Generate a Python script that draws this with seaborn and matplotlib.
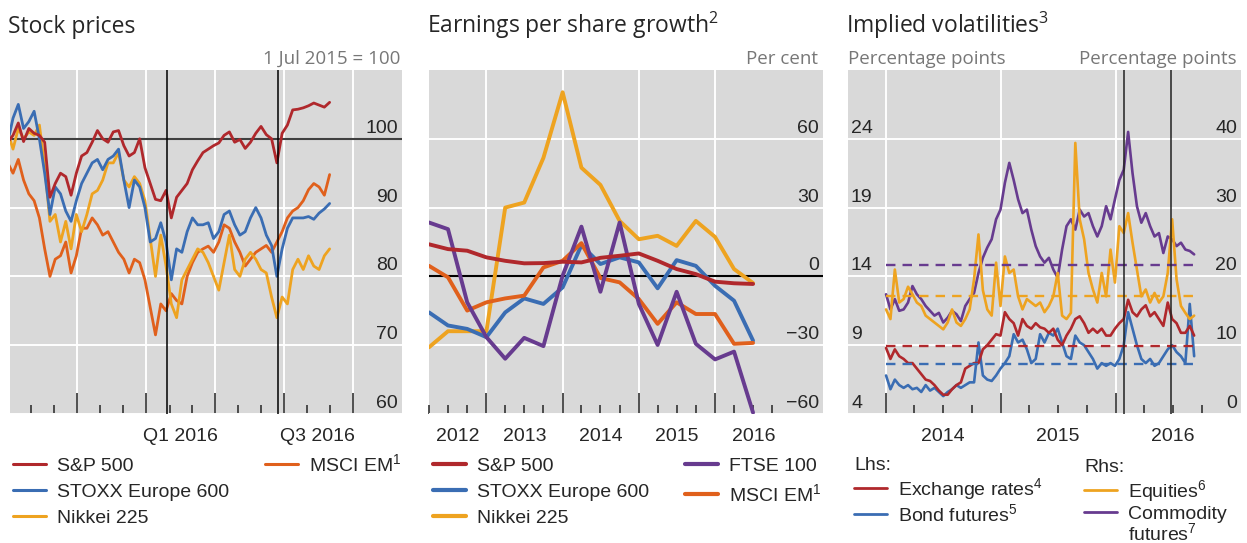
import matplotlib
matplotlib.use("Agg")
import matplotlib.pyplot as plt
import matplotlib.dates as mdates
from matplotlib.lines import Line2D
import pandas as pd
import seaborn as sns

W, H = 1247, 543

RED = "#b0282c"
BLUE = "#3a6db3"
GOLD = "#eea320"
ORANGE = "#e0601c"
PURPLE = "#673b8f"
PANEL_BG = "#d9d9d9"
UNIT_GREY = "#777777"

# --- stock prices, weekly, 1 Jul 2015 = 100
sp500 = [99.5, 100.5, 102.3, 99.6, 101.5, 100.8, 100.5, 99.5, 91.5, 93.5,
         95, 94.5, 91.8, 95, 97.5, 98, 99.5, 101.2, 100, 99.5,
         101, 101.2, 99, 97.5, 98, 100, 95.8, 93.5, 91.2, 91,
         92.5, 88.5, 91.5, 92.5, 93.5, 95.5, 96.8, 98, 98.5, 99,
         99.4, 100.5, 101, 99.5, 99.9, 98.6, 99.5, 100.8, 101.8, 100.6,
         100, 96.5, 100.8, 102, 104.2, 104.3, 104.5, 104.8, 105.2, 104.9,
         104.6, 105.3]
stoxx600 = [99.5, 103, 105, 101.5, 102.5, 104, 100, 95, 89, 93,
            92, 89.5, 88, 91, 93.5, 95, 96.5, 97, 95.5, 97,
            97.5, 98.5, 94, 90, 94, 93, 90, 85, 85.5, 87.8,
            85, 79.5, 84, 83.5, 86.5, 88.5, 87.5, 87.5, 87.8, 85.5,
            86.5, 89, 89.5, 87.5, 86, 86.5, 88.5, 90, 88.5, 86,
            84.5, 80, 84, 87, 88.5, 88.5, 88.5, 88.7, 88.3, 89.2,
            89.8, 90.6]
nikkei225 = [101, 98.5, 101.5, 100, 101, 100.5, 102, 96, 88, 89,
             85, 88, 84, 89, 86.5, 89, 92, 92.5, 94, 96.5,
             96.5, 98, 94, 93, 94.5, 93.5, 91, 85.5, 80, 86,
             81.5, 76, 74, 79.5, 81, 82.5, 84, 83.5, 82, 80,
             78, 82, 86, 81, 80, 82.5, 83.5, 82.5, 81, 80.5,
             77, 74, 77, 76, 81, 82.5, 81, 83, 81.5, 81,
             83, 84]
msci_em = [96.5, 95, 97, 94, 92, 91, 88.5, 84, 80, 82.5,
           83, 85, 80.5, 83, 87, 87, 88.5, 87.5, 86, 86.5,
           85, 83.5, 82.5, 80.5, 82.5, 82, 79.5, 75.5, 71.5, 76,
           75, 77.5, 76.5, 76, 80, 82, 83.5, 84, 84.4, 83.5,
           85, 87.5, 87, 85, 83.5, 81.5, 82.5, 83.5, 84, 84.5,
           83.5, 85, 86.5, 88.5, 89.5, 90, 91, 92.6, 93.5, 93,
           91.8, 94.8]
stock_dates = pd.date_range("2015-07-01", periods=len(sp500), freq="7D")

# --- earnings per share growth, quarterly, per cent
eps_sp500 = [14, 11.9, 11.2, 8.3, 6.8, 5.7, 5.8, 6.4, 6.1, 8.1, 9, 10,
             6.8, 3.2, 1, -2.3, -3, -3.3]
eps_stoxx = [-15.7, -21.4, -22.9, -26.5, -15.7, -9.6, -12, -4.8, 13.6, 5.4,
             8.3, 6.1, -5.2, 7.1, 4.6, -4.1, -10.6, -28]
eps_nikkei = [-30.9, -23.9, -23.9, -23.9, 30, 32.2, 51.7, 80.3, 47.4, 39.9,
              24.2, 16.2, 17.7, 13.3, 24.2, 17.2, 3.2, -2.9]
eps_ftse = [23.5, 20.6, -11.3, -26.5, -35.9, -26.8, -30.4, 0.3, 21.7, -6.7,
            23.5, -12, -29.9, -6.7, -29.4, -36.2, -32.8, -59.4]
eps_msci = [4.6, -0.4, -14.9, -11.3, -9.6, -8.4, 3.9, 6.8, 14.5, -0.7,
            -2.6, -9.9, -20.7, -11.3, -16.4, -16.4, -29.4, -29]
eps_dates = pd.date_range("2012-04-01", periods=len(eps_sp500), freq="QS")

# --- implied volatilities, fortnightly
vol_fx = [8.8, 8.0, 8.7, 8.2, 8.0, 7.7, 7.7, 7.3, 6.9, 6.5,
          6.4, 6.1, 5.7, 5.4, 5.4, 5.8, 6.1, 6.3, 7.3, 7.5,
          7.7, 7.7, 8.7, 9.0, 9.4, 9.8, 9.7, 11.4, 10.9, 10.6,
          9.7, 10.9, 10.4, 10.2, 10.6, 10.3, 10.2, 9.9, 10.2, 9.4,
          9.0, 9.7, 10.2, 10.9, 11.1, 10.6, 9.9, 10.2, 9.9, 10.2,
          9.7, 9.7, 10.2, 10.6, 10.9, 12.3, 11.4, 11.1, 11.6, 11.9,
          11.1, 11.4, 10.9, 10.4, 12.1, 10.9, 10.6, 9.9, 9.9, 10.4,
          9.7]
vol_bond = [6.8, 5.8, 6.5, 6.1, 5.9, 6.1, 5.8, 5.9, 5.6, 6.1,
            5.7, 5.9, 5.6, 5.3, 5.6, 5.8, 6.1, 5.9, 6.1, 6.3,
            6.3, 9.2, 6.8, 6.5, 6.4, 6.8, 7.3, 7.7, 8.2, 9.8,
            9.2, 9.4, 8.7, 7.7, 8.0, 9.8, 9.2, 9.9, 9.7, 10.2,
            9.2, 8.2, 8.0, 9.7, 9.2, 9.0, 8.5, 8.0, 7.3, 7.7,
            7.5, 7.7, 7.5, 8.0, 9.0, 11.4, 10.2, 9.0, 8.0, 7.7,
            8.0, 7.5, 7.7, 8.2, 8.7, 9.0, 8.5, 8.2, 7.7, 12.0,
            8.2]
vol_equity = [15.2, 13.8, 21.0, 16.2, 16.7, 18.5, 17.4, 16.2, 15.7, 14.3,
              13.8, 13.3, 12.8, 12.3, 13.3, 15.2, 13.3, 12.8, 13.8, 15.2,
              19.6, 26.1, 18.0, 15.2, 14.3, 22.0, 15.7, 22.9, 20.5, 21.0,
              17.1, 15.2, 16.7, 16.2, 15.7, 16.2, 14.8, 15.7, 17.1, 20.5,
              14.3, 13.8, 14.7, 39.4, 28.3, 25.4, 20.5, 18.1, 16.2, 20.5,
              17.1, 23.9, 19.1, 27.3, 26.3, 29.2, 24.9, 21.0, 17.1, 18.1,
              16.2, 17.6, 16.2, 17.1, 20.5, 28.3, 19.6, 15.7, 14.7, 13.8,
              14.3]
vol_commodity = [17.4, 15.2, 16.7, 15.0, 15.2, 16.2, 18.6, 17.4, 16.7, 15.7,
                 15.0, 14.3, 14.7, 13.3, 14.0, 15.0, 14.5, 13.5, 15.7, 16.7,
                 17.6, 20.5, 22.7, 24.2, 25.4, 28.3, 29.7, 33.6, 36.5, 34.0,
                 31.2, 29.2, 29.7, 26.8, 24.4, 22.9, 22.0, 22.7, 21.0, 19.8,
                 23.9, 27.3, 28.3, 26.8, 29.7, 28.7, 29.2, 27.3, 25.8, 27.3,
                 30.2, 28.3, 31.2, 34.0, 35.5, 41.0, 35.0, 30.2, 27.8, 29.2,
                 27.3, 25.8, 26.3, 23.4, 25.8, 25.4, 24.4, 24.9, 23.9, 23.7,
                 23.2]
vol_dates = pd.date_range("2014-01-01", periods=len(vol_fx), freq="14D")
# long-term averages (dashed)
avg_fx, avg_bond = 8.95, 7.6
avg_equity, avg_commodity = 17.15, 21.7

event_dates = [pd.Timestamp("2016-01-28"), pd.Timestamp("2016-06-24")]

sns.set_theme(style="darkgrid", rc={
    "axes.facecolor": PANEL_BG,
    "grid.color": "white",
    "grid.linewidth": 1.4,
    "axes.edgecolor": PANEL_BG,
})
plt.rcParams["font.family"] = ["Liberation Sans", "DejaVu Sans"]
plt.rcParams["mathtext.fontset"] = "custom"
plt.rcParams["mathtext.rm"] = "Liberation Sans"
plt.rcParams["mathtext.it"] = "Liberation Sans:italic"
plt.rcParams["mathtext.bf"] = "Liberation Sans:bold"
plt.rcParams["mathtext.default"] = "regular"

FS = 14
PX = 0.72  # points per pixel at dpi 100


def px_axes(left, top, right, bottom):
    return [left / W, 1 - bottom / H, (right - left) / W, (bottom - top) / H]


def style_axis(ax, major, minor, xlim, ylim, yticks):
    ax.set_xlim(*xlim)
    ax.set_ylim(*ylim)
    ax.set_xticks(mdates.date2num(major))
    ax.set_xticks(mdates.date2num(minor), minor=True)
    ax.set_yticks(yticks)
    ax.tick_params(axis="x", which="major", direction="in", length=21 * PX,
                   width=1.2, color="#333333", bottom=True, labelbottom=False)
    ax.tick_params(axis="x", which="minor", direction="in", length=9 * PX,
                   width=1.2, color="#333333", bottom=True, labelbottom=False)
    ax.tick_params(axis="y", left=False, right=False,
                   labelleft=False, labelright=False)
    ax.grid(which="minor", visible=False)
    ax.grid(which="major", color="white", lw=1.4)
    ax.set_xlabel("")
    ax.set_ylabel("")
    for s in ax.spines.values():
        s.set_visible(False)


def y_labels(ax, values, side):
    for v in values:
        txt = str(v).replace("-", "\u2212")
        if side == "right":
            ax.annotate(txt, xy=(1, v), xycoords=ax.get_yaxis_transform(),
                        xytext=(-4 * PX, 6 * PX), textcoords="offset points",
                        ha="right", va="baseline", fontsize=FS)
        else:
            ax.annotate(txt, xy=(0, v), xycoords=ax.get_yaxis_transform(),
                        xytext=(3 * PX, 6 * PX), textcoords="offset points",
                        ha="left", va="baseline", fontsize=FS)


def x_labels(ax, positions, labels):
    for pos, lab in zip(mdates.date2num(positions), labels):
        ax.annotate(lab, xy=(pos, 0), xycoords=ax.get_xaxis_transform(),
                    xytext=(0, -27 * PX), textcoords="offset points",
                    ha="center", va="baseline", fontsize=FS)


def legend(ax, handles, labels, x, y, ncol=1, title=None, spacing=0.43):
    kw = dict(handles=handles, labels=labels, loc="upper left",
              bbox_to_anchor=(x / W, 1 - y / H), bbox_transform=ax.figure.transFigure,
              ncol=ncol, frameon=False, fontsize=FS, borderpad=0, borderaxespad=0,
              handlelength=1.7, handletextpad=0.55, columnspacing=1.85,
              labelspacing=spacing)
    if title:
        kw.update(title=title, title_fontsize=FS, alignment="left")
    return ax.legend(**kw)


fig = plt.figure(figsize=(W / 100, H / 100), dpi=100)

# ---------------- panel 1: stock prices
ax1 = fig.add_axes(px_axes(10, 70, 402, 414))
ax1.axhline(100, color="#404040", lw=1.5, zorder=1.5)
for series, col in [(msci_em, ORANGE), (nikkei225, GOLD),
                    (stoxx600, BLUE), (sp500, RED)]:
    sns.lineplot(x=stock_dates, y=series, ax=ax1, color=col, lw=2.0,
                 legend=False, zorder=2)
for d in event_dates:
    ax1.axvline(d, color="black", lw=1.1, zorder=3)
q_major = pd.to_datetime(["2015-10-01", "2016-01-01", "2016-04-01",
                          "2016-07-01", "2016-10-01"])
q_minor = pd.to_datetime(["2015-08-01", "2015-09-01", "2015-11-01", "2015-12-01",
                          "2016-02-01", "2016-03-01", "2016-05-01", "2016-06-01",
                          "2016-08-01", "2016-09-01"])
style_axis(ax1, q_major, q_minor,
           (pd.Timestamp("2015-07-04"), pd.Timestamp("2016-12-05")),
           (60, 110), [60, 70, 80, 90, 100])
y_labels(ax1, [60, 70, 80, 90, 100], "right")
x_labels(ax1, pd.to_datetime(["2016-02-15", "2016-08-15"]), ["Q1 2016", "Q3 2016"])

lw1 = 2.2
blank = Line2D([], [], color="none")
legend(ax1,
       [Line2D([], [], color=RED, lw=lw1), Line2D([], [], color=BLUE, lw=lw1),
        Line2D([], [], color=GOLD, lw=lw1), Line2D([], [], color=ORANGE, lw=lw1),
        blank, blank],
       ["S&P 500", "STOXX Europe 600", "Nikkei 225", "MSCI EM$^1$", "", ""],
       13, 453, ncol=2)

# ---------------- panel 2: EPS growth
ax2 = fig.add_axes(px_axes(429, 70, 823, 414))
ax2.axhline(0, color="black", lw=1.5, zorder=1.5)
for series, col in [(eps_nikkei, GOLD), (eps_stoxx, BLUE), (eps_msci, ORANGE),
                    (eps_ftse, PURPLE), (eps_sp500, RED)]:
    sns.lineplot(x=eps_dates, y=series, ax=ax2, color=col, lw=2.8,
                 legend=False, zorder=2)
y_major = pd.to_datetime(["2013-01-01", "2014-01-01", "2015-01-01", "2016-01-01"])
y_minor = pd.to_datetime([f"{yr}-{m:02d}-01" for yr in range(2012, 2017)
                          for m in (4, 7, 10)])
style_axis(ax2, y_major, y_minor,
           (pd.Timestamp("2012-04-01"), pd.Timestamp("2017-06-01")),
           (-60, 90), [-60, -30, 0, 30, 60])
y_labels(ax2, [-60, -30, 0, 30, 60], "right")
x_labels(ax2, pd.to_datetime(["2012-08-16", "2013-07-02", "2014-07-02",
                              "2015-07-02", "2016-07-02"]),
         ["2012", "2013", "2014", "2015", "2016"])
lw2 = 3.0
legend(ax2,
       [Line2D([], [], color=RED, lw=lw2), Line2D([], [], color=BLUE, lw=lw2),
        Line2D([], [], color=GOLD, lw=lw2), Line2D([], [], color=PURPLE, lw=lw2),
        Line2D([], [], color=ORANGE, lw=lw2), blank],
       ["S&P 500", "STOXX Europe 600", "Nikkei 225", "FTSE 100", "MSCI EM$^1$", ""],
       433, 457, ncol=2)

# ---------------- panel 3: implied volatilities
ax3 = fig.add_axes(px_axes(848, 70, 1241, 414))
ax3r = ax3.twinx()
lw_v = 1.9
sns.lineplot(x=vol_dates, y=vol_bond, ax=ax3, color=BLUE, lw=lw_v, legend=False)
sns.lineplot(x=vol_dates, y=vol_fx, ax=ax3, color=RED, lw=lw_v, legend=False)
sns.lineplot(x=vol_dates, y=vol_commodity, ax=ax3r, color=PURPLE, lw=lw_v, legend=False)
sns.lineplot(x=vol_dates, y=vol_equity, ax=ax3r, color=GOLD, lw=lw_v, legend=False)
dash = (0, (4, 3))
ax3.hlines([avg_fx, avg_bond], vol_dates[0], vol_dates[-1], colors=[RED, BLUE],
           lw=1.7, linestyles=[dash, dash])
ax3r.hlines([avg_commodity, avg_equity], vol_dates[0], vol_dates[-1],
            colors=[PURPLE, GOLD], lw=1.7, linestyles=[dash, dash])
for d in event_dates:
    ax3r.axvline(d, color="#222222", lw=1.1, zorder=3)
v_major = pd.to_datetime(["2014-01-01", "2015-01-01", "2016-01-01"])
v_minor = pd.to_datetime([f"{yr}-{m:02d}-01" for yr in range(2014, 2017)
                          for m in (4, 7, 10)])
xl3 = (pd.Timestamp("2013-09-02"), pd.Timestamp("2017-02-03"))
style_axis(ax3, v_major, v_minor, xl3, (4, 29), [4, 9, 14, 19, 24])
ax3r.set_xlim(*xl3)
ax3r.set_ylim(0, 50)
ax3r.grid(False)
ax3r.tick_params(axis="y", left=False, right=False, labelleft=False, labelright=False)
ax3r.set_ylabel("")
for s in ax3r.spines.values():
    s.set_visible(False)
y_labels(ax3, [4, 9, 14, 19, 24], "left")
y_labels(ax3r, [0, 10, 20, 30, 40], "right")
x_labels(ax3, pd.to_datetime(["2014-07-02", "2015-07-02", "2016-07-02"]),
         ["2014", "2015", "2016"])

lw3 = 2.0
legend(ax3, [Line2D([], [], color=RED, lw=lw3), Line2D([], [], color=BLUE, lw=lw3)],
       ["Exchange rates$^4$", "Bond futures$^5$"], 854, 457, title="Lhs:", spacing=0.09)
legend(ax3r, [Line2D([], [], color=GOLD, lw=lw3), Line2D([], [], color=PURPLE, lw=lw3)],
       ["Equities$^6$", "Commodity"], 1084, 459, title="Rhs:", spacing=0.09)
# second line of the commodity label
fig.text(1128 / W, 1 - 540 / H, "futures$^7$", fontsize=FS, va="baseline")

# ---------------- titles and units
title_kw = dict(fontsize=16.5, family=["Open Sans", "DejaVu Sans"], va="baseline")
fig.text(8 / W, 1 - 33 / H, "Stock prices", **title_kw)
fig.text(427 / W, 1 - 33 / H, "Earnings per share growth$^2$", **title_kw)
fig.text(846 / W, 1 - 33 / H, "Implied volatilities$^3$", **title_kw)
unit_kw = dict(fontsize=13.5, family=["Open Sans", "DejaVu Sans"], va="baseline",
               color=UNIT_GREY)
fig.text(400 / W, 1 - 64 / H, "1 Jul 2015 = 100", ha="right", **unit_kw)
fig.text(818 / W, 1 - 64 / H, "Per cent", ha="right", **unit_kw)
fig.text(848 / W, 1 - 64 / H, "Percentage points", ha="left", **unit_kw)
fig.text(1237 / W, 1 - 64 / H, "Percentage points", ha="right", **unit_kw)

fig.savefig("out.png", dpi=100, facecolor="white")
